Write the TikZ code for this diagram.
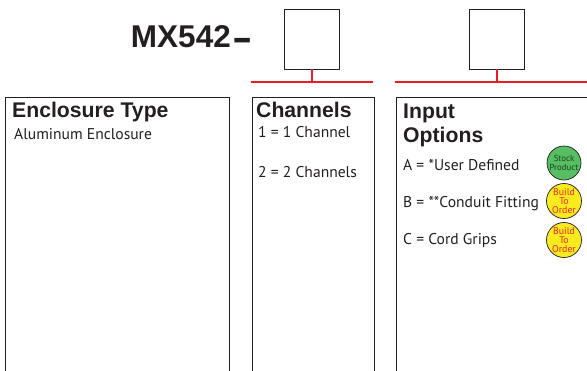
\documentclass[tikz,border=0pt]{standalone}
\usepackage{fontspec}
\setmainfont{PT Sans}
\newfontfamily\headfont{Liberation Sans}
\definecolor{redline}{RGB}{237,28,36}
\definecolor{stockgreen}{RGB}{88,190,100}
\definecolor{stocktext}{RGB}{20,70,30}
\definecolor{buildyellow}{RGB}{250,235,30}
\definecolor{buildred}{RGB}{235,40,40}
\definecolor{inkc}{RGB}{35,31,32}
\tikzset{
  optbox/.style={draw=inkc,line width=1pt},
  codebox/.style={draw=inkc,line width=0.9pt,minimum width=55pt,minimum height=60pt,inner sep=0pt},
  redlink/.style={draw=redline,line width=2pt},
  heading/.style={font=\headfont\bfseries\fontsize{21.2}{22}\selectfont,text=inkc,anchor=base west,inner sep=0pt},
  body/.style={font=\fontsize{15.6}{16}\selectfont,text=inkc,anchor=base west,inner sep=0pt},
  badge/.style={circle,draw=inkc,line width=0.7pt,minimum size=34pt,inner sep=0pt,align=center},
}
\begin{document}
\begin{tikzpicture}[x=1pt,y=-1pt]
\useasboundingbox (0,0) rectangle (587,370);
\clip (0,0) rectangle (587,370);
% title
\node[font=\headfont\bfseries\fontsize{31.5}{32}\selectfont,text=inkc,anchor=base east,inner sep=0pt] (title) at (231,47) {MX542};
\node[font=\headfont\bfseries\fontsize{38}{38}\selectfont,text=inkc,anchor=base,inner sep=0pt] (dash) at (242.5,50) {\scalebox{1.6}[1]{-}};
% code squares
\node[codebox] (sq1) at (311.5,39) {};
\node[codebox] (sq2) at (497,39) {};
% red brackets
\coordinate (r1a) at (251,82);
\coordinate (r1b) at (373,82);
\coordinate (r1m) at (311.5,82);
\coordinate (r2a) at (395,82);
\coordinate (r2b) at (600,82);
\coordinate (r2m) at (497,82);
\draw[redlink] (r1a) -- (r1b);
\draw[redlink] (r2a) -- (r2b);
\draw[redlink] (sq1.south) -- (r1m);
\draw[redlink] (sq2.south) -- (r2m);
% option boxes (open at the bottom)
\draw[optbox] (5,380) -- (5,97) -- (229,97) -- (229,380);
\draw[optbox] (252,380) -- (252,97) -- (374,97) -- (374,380);
\draw[optbox] (396,380) -- (396,97) -- (610,97) -- (610,380);
% enclosure
\node[heading] (h1) at (12,117) {Enclosure Type};
\node[body] (e1) at (14,139) {Aluminum Enclosure};
% channels
\node[heading] (h2) at (256,117) {Channels};
\node[body] (c1) at (258,137) {1 = 1 Channel};
\node[body] (c2) at (258,177) {2 = 2 Channels};
% input options
\node[heading] (h3) at (403,118) {Input};
\node[heading] (h3b) at (403,142) {Options};
\node[body] (a1) at (403,170) {A = *User Defined};
\node[body] (b1) at (403,207) {B = **Conduit Fitting};
\node[body] (cc1) at (403,244) {C = Cord Grips};
% badges
\node[badge,fill=stockgreen,text=stocktext,font=\fontsize{8.8}{9.5}\selectfont] (g1) at (564,163) {Stock\\Product};
\node[badge,fill=buildyellow,text=buildred,font=\fontsize{9.8}{9.4}\selectfont] (y1) at (564,201) {Build\\To\\Order};
\node[badge,fill=buildyellow,text=buildred,font=\fontsize{9.8}{9.4}\selectfont] (y2) at (564,240) {Build\\To\\Order};
\end{tikzpicture}
\end{document}
